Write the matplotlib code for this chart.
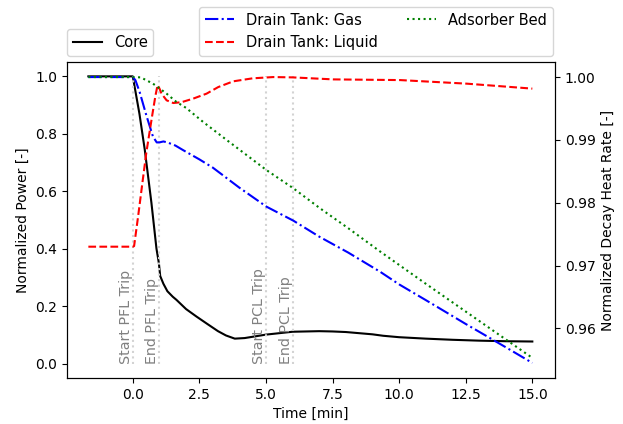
import matplotlib
matplotlib.use("Agg")
import matplotlib.pyplot as plt

# time axis in minutes (trip at t = 0)
core_t = [-1.667, 0.0, 0.25, 0.45, 0.7, 0.89, 0.98, 1.03, 1.15, 1.3, 1.5, 1.64, 2.0, 2.39,
          2.8, 3.2, 3.5, 3.83, 4.2, 5.0, 6.0, 7.0, 7.5, 8.0, 9.0, 9.4, 10.0, 11.0, 12.0,
          13.0, 14.0, 15.0]
core_power = [1.0, 1.0, 0.87, 0.745, 0.56, 0.40, 0.35, 0.305, 0.278, 0.252, 0.233, 0.222,
              0.19, 0.164, 0.138, 0.113, 0.098, 0.087, 0.089, 0.101, 0.111, 0.113, 0.112,
              0.110, 0.102, 0.097, 0.092, 0.087, 0.083, 0.080, 0.078, 0.077]

gas_t = [-1.667, 0.0, 0.1, 0.26, 0.51, 0.76, 0.9, 1.0, 1.15, 1.3, 1.6, 1.89, 2.5, 3.0,
         4.0, 5.02, 6.03, 7.0, 8.09, 9.29, 10.0, 11.0, 12.5, 14.0, 15.0]
gas_heat = [1.0, 1.0, 0.9995, 0.9976, 0.9939, 0.9905, 0.9896, 0.9896, 0.98975, 0.9896,
            0.9891, 0.98837, 0.9869, 0.9856, 0.9824, 0.97937, 0.97714, 0.9746, 0.97206,
            0.9690, 0.9670, 0.9645, 0.9607, 0.9570, 0.9545]

liquid_t = [-1.667, 0.0, 0.05, 0.2, 0.36, 0.51, 0.73, 0.85, 0.93, 1.0, 1.08, 1.27, 1.52,
            1.83, 2.27, 2.77, 3.21, 3.77, 4.5, 5.27, 6.0, 7.53, 10.04, 12.54, 15.0]
liquid_heat = [0.9730, 0.9730, 0.9731, 0.9778, 0.9831, 0.9880, 0.9939, 0.9970, 0.9987,
               0.9982, 0.99736, 0.9963, 0.99587, 0.9960, 0.99657, 0.99736, 0.99841,
               0.99932, 0.9998, 1.0, 0.99995, 0.99963, 0.99952, 0.99895, 0.99816]

bed_t = [-1.667, 0.0, 0.3, 0.76, 1.27, 1.64, 2.0, 2.64, 3.52, 5.02, 6.03, 7.03, 8.09,
         9.29, 11.0, 13.0, 15.0]
bed_heat = [1.0, 1.0, 0.99995, 0.99895, 0.99736, 0.99603, 0.9951, 0.99286, 0.9900,
            0.98519, 0.98229, 0.97911, 0.97594, 0.97222, 0.9671, 0.9612, 0.9553]

trip_times = [0.0, 1.0, 5.0, 6.0]
trip_labels = ["Start PFL Trip", "End PFL Trip", "Start PCL Trip", "End PCL Trip"]

fig = plt.figure(figsize=(6.23, 4.24), dpi=100)
ax1 = fig.add_axes([0.1075, 0.1085, 0.7833, 0.7453])
ax2 = ax1.twinx()

ax1.plot(core_t, core_power, color="k", linestyle="-", label="Core")
ax1.vlines(trip_times, 0, 1, colors="lightgray", linestyles=":", linewidth=1.5)
for t, lab in zip(trip_times, trip_labels):
    ax1.text(t, 0, lab, rotation=90, ha="right", va="bottom", color="gray", fontsize=10.3)

ax2.plot(gas_t, gas_heat, color="b", linestyle="-.", label="Drain Tank: Gas")
ax2.plot(liquid_t, liquid_heat, color="r", linestyle="--", label="Drain Tank: Liquid")
ax2.plot(bed_t, bed_heat, color="g", linestyle=":", label="Adsorber Bed")

ax1.set_xlim(-2.47, 15.85)
ax1.set_ylim(-0.05, 1.05)
ax2.set_ylim(0.9521, 1.0024)
ax1.set_xlabel("Time [min]")
ax1.set_ylabel("Normalized Power [-]")
ax2.set_ylabel("Normalized Decay Heat Rate [-]")

ax1.legend(loc="lower left", bbox_to_anchor=(0, 1.02), borderaxespad=0, fontsize=10.5)
ax2.legend(loc="lower right", bbox_to_anchor=(0.995, 1.02), borderaxespad=0, ncol=2,
           fontsize=10.5)

fig.savefig("out.png", dpi=100)
plt.close(fig)
